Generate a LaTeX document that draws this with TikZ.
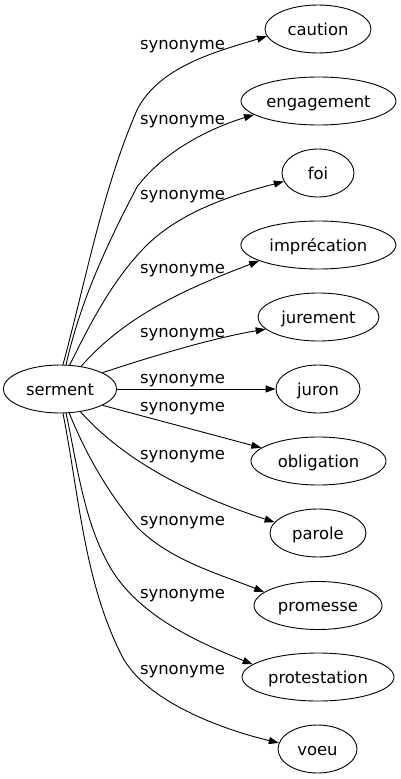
\documentclass[tikz,border=0pt]{standalone}
\usepackage{fontspec}
\setmainfont{DejaVu Sans}
\usetikzlibrary{arrows.meta,shapes.geometric}
\begin{document}
\begin{tikzpicture}[x=1pt,y=-1pt,
  word/.style={draw, ellipse, line width=0.9pt, inner sep=0pt, minimum height=48pt,
    text height=12pt, text depth=0pt, font=\fontsize{16.4}{19}\selectfont},
  lab/.style={anchor=base, inner sep=0pt, font=\fontsize{16.4}{19}\selectfont},
  edge/.style={line width=0.9pt, -{Triangle[length=10pt,width=7pt]}}]
\useasboundingbox (0,0) rectangle (401,779);
\node[word, minimum width=113.4pt] (serment) at (60,389) {serment};
\node[word, minimum width=106pt] (caution) at (318,29) {caution};
\node[word, minimum width=155pt] (engagement) at (318.5,101) {engagement};
\node[word, minimum width=72pt] (foi) at (318,173) {foi};
\node[word, minimum width=155pt] (imprecation) at (318.4,245) {imprécation};
\node[word, minimum width=121pt] (jurement) at (318.5,317) {jurement};
\node[word, minimum width=84pt] (juron) at (318,389) {juron};
\node[word, minimum width=135pt] (obligation) at (318.5,461) {obligation};
\node[word, minimum width=96pt] (parole) at (318,533) {parole};
\node[word, minimum width=128pt] (promesse) at (318,605.5) {promesse};
\node[word, minimum width=152pt] (protestation) at (318,677) {protestation};
\node[word, minimum width=79pt] (voeu) at (317.5,749) {voeu};

\node[lab] (l1) at (182.5,49.5) {synonyme};
\node[lab] (l2) at (182.5,124.5) {synonyme};
\node[lab] (l3) at (182.5,199.5) {synonyme};
\node[lab] (l4) at (182.5,273) {synonyme};
\node[lab] (l5) at (182.5,337) {synonyme};
\node[lab] (l6) at (182.5,383) {synonyme};
\node[lab] (l7) at (182.5,411) {synonyme};
\node[lab] (l8) at (182.5,459) {synonyme};
\node[lab] (l9) at (182.5,525) {synonyme};
\node[lab] (l10) at (182.5,598) {synonyme};
\node[lab] (l11) at (182.5,674.5) {synonyme};

\draw[edge] (serment.83) .. controls (86,280) and (102,191) .. (137,110)
  .. controls (159.5,65.5) and (219,51) .. (caution.188.9);
\draw[edge] (serment.76) .. controls (80,302.5) and (106,246) .. (137,187)
  .. controls (164,151) and (210,128.2) .. (engagement.192.1);
\draw[edge] (serment.68.6) .. controls (90,324) and (113,279) .. (146,246)
  .. controls (181,211) and (234.5,194.4) .. (foi.194.4);
\draw[edge] (serment.47.7) .. controls (126.7,314) and (191.5,286.6) .. (imprecation.195.5);
\draw[edge] (serment.21.6) .. controls (153,356) and (213,338) .. (jurement.193.2);
\draw[edge] (serment.east) -- (juron.west);
\draw[edge] (serment.-21.6) -- (obligation.167.5);
\draw[edge] (serment.-48.4) .. controls (128,465) and (200,498) .. (parole.166.3);
\draw[edge] (serment.-69.4) .. controls (85.6,453.7) and (108.4,493.6) .. (137,527)
  .. controls (170,560.6) and (219.6,574) .. (promesse.166.2);
\draw[edge] (serment.-76) .. controls (77.3,464.8) and (83.5,521) .. (110,567)
  .. controls (138.5,616.4) and (199.6,642.8) .. (protestation.169.5);
\draw[edge] (serment.-83) .. controls (79,494.4) and (84,582) .. (122,656)
  .. controls (144.9,700.5) and (219.7,728.8) .. (voeu.171.4);
\end{tikzpicture}
\end{document}
